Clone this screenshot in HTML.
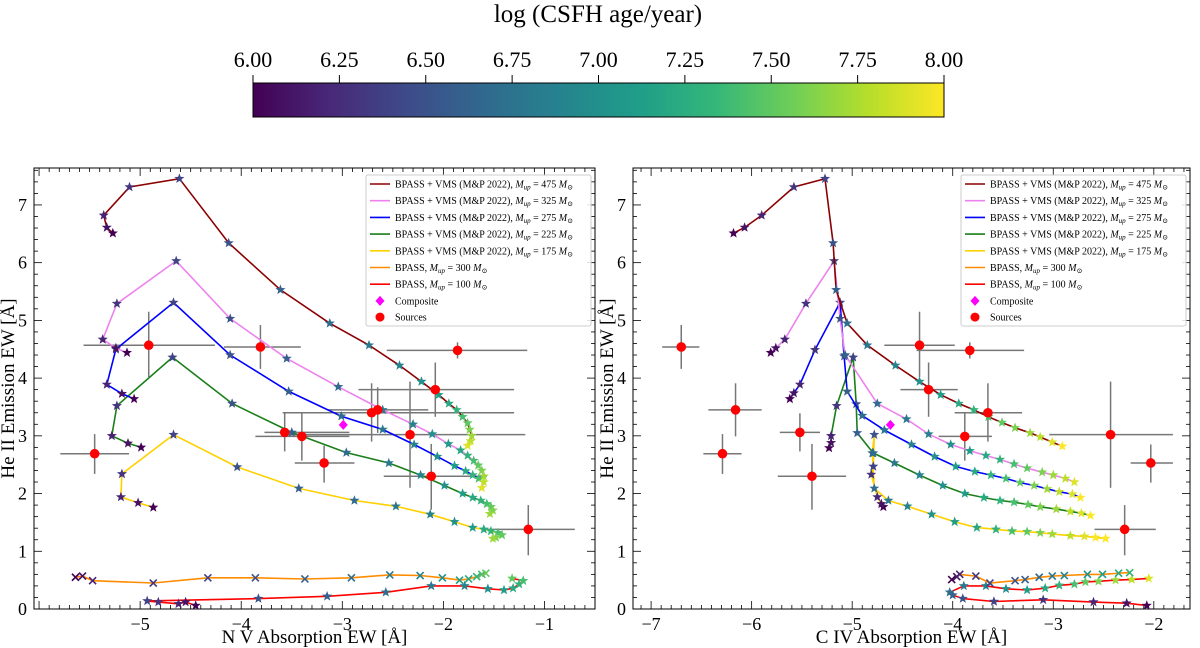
<!DOCTYPE html>
<html><head><meta charset="utf-8">
<style>
html,body{margin:0;padding:0;background:#fff;}
svg{display:block;font-family:"Liberation Serif","DejaVu Serif",serif;}
</style></head>
<body>
<svg id="fig" width="1200" height="648" viewBox="0 0 1200 648" xmlns="http://www.w3.org/2000/svg">
<defs>
<linearGradient id="vir" x1="0" x2="1" y1="0" y2="0">
<stop offset="0" stop-color="#440154"/><stop offset="0.11" stop-color="#482878"/><stop offset="0.22" stop-color="#3e4a89"/><stop offset="0.33" stop-color="#31688e"/><stop offset="0.44" stop-color="#26828e"/><stop offset="0.56" stop-color="#1f9e89"/><stop offset="0.67" stop-color="#35b779"/><stop offset="0.78" stop-color="#6ece58"/><stop offset="0.89" stop-color="#b5de2b"/><stop offset="1" stop-color="#fde725"/>
</linearGradient>
</defs>
<text x="598" y="22" font-size="25" text-anchor="middle">log (CSFH age/year)</text>
<rect x="253" y="83" width="691" height="34" fill="url(#vir)" stroke="#000" stroke-width="1"/>
<g id="cbticks"></g>
<g id="panelL"></g>
<g id="panelR"></g>
</svg>
<script>
// ---------- data ----------
const cbTicks = ["6.00","6.25","6.50","6.75","7.00","7.25","7.50","7.75","8.00"];
const xTicksL = [-5,-4,-3,-2,-1];
const xTicksR = [-7,-6,-5,-4,-3,-2];
const yTicks = [0,1,2,3,4,5,6,7];

// Left panel (N V)
const nv475X = [-5.27,-5.33,-5.36,-5.105,-4.612,-4.124,-3.612,-3.124,-2.736,-2.434,-2.217,-2.047,-1.946,-1.868,-1.81,-1.76,-1.74,-1.72,-1.73,-1.76];
const nv475Y = [6.51,6.61,6.82,7.31,7.455,6.34,5.53,4.95,4.57,4.22,3.94,3.71,3.56,3.45,3.33,3.22,3.11,3.0,2.91,2.83];
const nv325X = [-5.13,-5.24,-5.37,-5.23,-4.643,-4.109,-3.55,-3.04,-2.6,-2.3,-2.11,-1.95,-1.83,-1.76,-1.7,-1.655,-1.62,-1.6,-1.6,-1.62];
const nv325Y = [4.44,4.52,4.67,5.29,6.03,5.03,4.34,3.85,3.45,3.2,3.03,2.86,2.75,2.66,2.57,2.49,2.40,2.3,2.2,2.1];
const nv275X = [-5.06,-5.18,-5.33,-5.24,-4.67,-4.11,-3.53,-3.01,-2.6,-2.29,-2.06,-1.89,-1.78,-1.71,-1.65];
const nv275Y = [3.64,3.73,3.89,4.5,5.31,4.40,3.77,3.34,3.11,2.85,2.64,2.48,2.39,2.32,2.26];
const nv225X = [-4.99,-5.12,-5.28,-5.23,-4.68,-4.09,-3.5,-2.96,-2.54,-2.225,-1.99,-1.81,-1.71,-1.63,-1.57,-1.53,-1.51,-1.54];
const nv225Y = [2.80,2.87,3.0,3.52,4.36,3.56,3.06,2.71,2.53,2.32,2.14,2.0,1.93,1.88,1.82,1.77,1.71,1.65];
const nv175X = [-4.87,-5.02,-5.19,-5.18,-4.67,-4.04,-3.43,-2.88,-2.47,-2.13,-1.89,-1.71,-1.6,-1.53,-1.46,-1.42,-1.48,-1.51];
const nv175Y = [1.76,1.84,1.94,2.34,3.02,2.46,2.09,1.88,1.78,1.64,1.51,1.41,1.38,1.35,1.32,1.28,1.24,1.22];
const nvB300X = [-5.64,-5.57,-5.47,-4.87,-4.33,-3.86,-3.37,-2.91,-2.53,-2.23,-2.01,-1.84,-1.75,-1.67,-1.62,-1.58];
const nvB300Y = [0.55,0.57,0.49,0.45,0.54,0.54,0.52,0.54,0.59,0.58,0.54,0.50,0.52,0.56,0.60,0.62];
const nvB100X = [-4.45,-4.55,-4.62,-4.82,-4.93,-3.83,-3.15,-2.57,-2.12,-1.79,-1.56,-1.40,-1.31,-1.25,-1.21,-1.32];
const nvB100Y = [0.06,0.12,0.09,0.12,0.14,0.18,0.22,0.29,0.40,0.40,0.35,0.33,0.36,0.43,0.49,0.53];
const nvSrcX = [-4.915,-3.81,-1.86,-2.08,-2.71,-2.65,-2.33,-3.57,-3.40,-3.18,-2.12,-5.45,-1.16];
const nvSrcY = [4.57,4.54,4.48,3.80,3.40,3.45,3.02,3.06,2.99,2.53,2.30,2.69,1.38];
const nvSrcXlo = [-5.56,-4.17,-2.56,-2.84,-3.59,-3.14,-3.59,-3.77,-3.86,-3.47,-2.59,-5.79,-1.57];
const nvSrcXhi = [-4.26,-3.41,-1.17,-1.30,-1.30,-2.15,-1.19,-2.93,-2.93,-2.88,-1.57,-5.11,-0.70];
const nvSrcYlo = [4.02,4.16,4.34,3.33,2.90,3.05,2.10,2.73,2.57,2.19,1.72,2.34,0.93];
const nvSrcYhi = [5.15,4.92,4.62,4.27,3.91,3.84,3.94,3.40,3.40,2.83,2.86,3.03,1.80];
const nvCompX = [-2.99];
const nvCompY = [3.19];

// Right panel (C IV)
const civ475X = [-6.18,-6.07,-5.90,-5.58,-5.27,-5.19,-5.16,-5.05,-4.85,-4.57,-4.33,-4.12,-3.94,-3.79,-3.645,-3.51,-3.38,-3.23,-3.13,-3.01,-2.91];
const civ475Y = [6.51,6.61,6.82,7.31,7.455,6.34,5.53,4.95,4.57,4.22,3.94,3.71,3.56,3.45,3.33,3.23,3.14,3.05,2.98,2.89,2.82];
const civ325X = [-5.81,-5.76,-5.67,-5.46,-5.18,-5.12,-5.07,-4.75,-4.46,-4.24,-4.02,-3.83,-3.67,-3.53,-3.39,-3.26,-3.11,-3.0,-2.88,-2.79];
const civ325Y = [4.44,4.52,4.67,5.29,6.03,5.03,4.40,3.56,3.29,3.03,2.85,2.74,2.66,2.59,2.51,2.44,2.37,2.32,2.26,2.20];
const civ275X = [-5.62,-5.58,-5.52,-5.37,-5.12,-5.08,-5.05,-4.90,-4.68,-4.41,-4.18,-3.97,-3.78,-3.62,-3.47,-3.33,-3.19,-3.06,-2.94,-2.81,-2.73];
const civ275Y = [3.64,3.74,3.89,4.49,5.31,4.38,3.77,3.35,3.10,2.85,2.64,2.47,2.38,2.32,2.26,2.19,2.14,2.08,2.03,1.99,1.93];
const civ225X = [-5.23,-5.21,-5.21,-5.155,-4.99,-4.96,-4.95,-4.79,-4.58,-4.33,-4.10,-3.88,-3.69,-3.53,-3.39,-3.25,-3.13,-2.97,-2.83,-2.72,-2.63];
const civ225Y = [2.79,2.88,3.0,3.52,4.36,3.55,3.05,2.70,2.53,2.32,2.14,2.0,1.93,1.88,1.85,1.81,1.77,1.73,1.69,1.66,1.62];
const civ175X = [-4.69,-4.71,-4.75,-4.81,-4.79,-4.78,-4.80,-4.78,-4.64,-4.45,-4.21,-3.98,-3.76,-3.57,-3.41,-3.26,-3.13,-3.01,-2.83,-2.69,-2.58,-2.48];
const civ175Y = [1.77,1.82,1.94,2.33,2.47,3.02,2.70,2.09,1.88,1.78,1.64,1.51,1.41,1.38,1.35,1.34,1.32,1.30,1.27,1.26,1.24,1.22];
const civB300X = [-4.01,-3.96,-3.93,-3.77,-3.63,-3.38,-3.28,-3.14,-3.01,-2.89,-2.66,-2.51,-2.35,-2.24];
const civB300Y = [0.51,0.56,0.60,0.57,0.45,0.49,0.51,0.55,0.57,0.58,0.60,0.60,0.62,0.63];
const civB100X = [-2.07,-2.27,-2.60,-3.10,-3.59,-3.90,-4.0,-4.03,-3.89,-3.67,-3.47,-3.26,-3.08,-2.94,-2.79,-2.68,-2.55,-2.38,-2.22,-2.05];
const civB100Y = [0.06,0.10,0.12,0.16,0.13,0.18,0.24,0.29,0.40,0.40,0.35,0.33,0.36,0.41,0.43,0.47,0.48,0.50,0.51,0.53];
const civSrcX = [-6.70,-6.16,-6.29,-5.52,-5.40,-4.33,-3.83,-4.24,-3.65,-3.88,-2.43,-2.03,-2.29];
const civSrcY = [4.54,3.45,2.69,3.06,2.30,4.57,4.48,3.80,3.40,2.99,3.02,2.53,1.38];
const civSrcXlo = [-6.89,-6.43,-6.48,-5.72,-5.74,-4.68,-4.36,-4.52,-3.98,-4.14,-3.04,-2.23,-2.59];
const civSrcXhi = [-6.52,-5.90,-6.10,-5.32,-5.06,-3.98,-3.29,-3.95,-3.31,-3.61,-1.81,-1.81,-1.98];
const civSrcYlo = [4.16,2.99,2.34,2.73,1.72,4.02,4.34,3.33,2.90,2.57,2.10,2.19,0.93];
const civSrcYhi = [4.92,3.91,3.03,3.39,2.86,5.15,4.62,4.27,3.91,3.40,3.94,2.85,1.80];
const civCompX = [-4.62];
const civCompY = [3.19];

// ---------- helpers ----------
const NS = "http://www.w3.org/2000/svg";
function mk(tag, attrs, parent){const e=document.createElementNS(NS,tag);for(const k in attrs)e.setAttribute(k,attrs[k]);parent.appendChild(e);return e;}
const VIR=[[68,1,84],[72,40,120],[62,74,137],[49,104,142],[38,130,142],[31,158,137],[53,183,121],[110,206,88],[181,222,43],[253,231,37]];
function viridis(t){t=Math.max(0,Math.min(1,t));const p=t*(VIR.length-1);const i=Math.min(Math.floor(p),VIR.length-2);const f=p-i;const c=VIR[i].map((v,k)=>Math.round(v+(VIR[i+1][k]-v)*f));return `rgb(${c[0]},${c[1]},${c[2]})`;}
function starPath(cx,cy,r){let d="";for(let i=0;i<10;i++){const a=-Math.PI/2+i*Math.PI/5;const rr=i%2?r*0.42:r;d+=(i?"L":"M")+(cx+rr*Math.cos(a)).toFixed(1)+","+(cy+rr*Math.sin(a)).toFixed(1);}return d+"Z";}

// colorbar ticks
const cb=document.getElementById("cbticks");
cbTicks.forEach((t,i)=>{
  const x=253+i*691/(cbTicks.length-1);
  const tk=mk("line",{x1:x,x2:x,y1:83,y2:75,stroke:"#000","stroke-width":1},cb);
  
  
  const lb=mk("text",{x:x,y:67,"font-size":22,"text-anchor":"middle"},cb);
  lb.textContent=t;
  
  
});

const legendLabels=[
  ["#8b0000","BPASS + VMS (M&P 2022), ","475"],
  ["#ee82ee","BPASS + VMS (M&P 2022), ","325"],
  ["#0000ff","BPASS + VMS (M&P 2022), ","275"],
  ["#1a7f1a","BPASS + VMS (M&P 2022), ","225"],
  ["#ffd000","BPASS + VMS (M&P 2022), ","175"],
  ["#ff8c00","BPASS, ","300"],
  ["#ff0000","BPASS, ","100"]
];

function drawPanel(g, P, series, src, comp, xTicks, xlabel){
  const sx=v=>P.x0+(v-P.xmin)/(P.xmax-P.xmin)*(P.x1-P.x0);
  const sy=v=>P.y1-(v-P.ymin)/(P.ymax-P.ymin)*(P.y1-P.y0);
  const fr=mk("rect",{x:P.x0,y:P.y0,width:P.x1-P.x0,height:P.y1-P.y0,fill:"none",stroke:"#000","stroke-width":1},g);
  
  
  const tg=mk("g",{stroke:"#000","stroke-width":0.8},g);
  
  
  for(let v=Math.ceil(P.xmin*10)/10; v<=P.xmax; v+=0.1){
    const x=sx(v); const major=Math.abs(v-Math.round(v))<1e-6;
    const L=major?8:4;
    mk("line",{x1:x,x2:x,y1:P.y1,y2:P.y1-L},tg);
    mk("line",{x1:x,x2:x,y1:P.y0,y2:P.y0+L},tg);
  }
  for(let v=0; v<=P.ymax; v+=0.2){
    const y=sy(v); const major=Math.abs(v-Math.round(v))<1e-6;
    const L=major?8:4;
    mk("line",{x1:P.x0,x2:P.x0+L,y1:y,y2:y},tg);
    mk("line",{x1:P.x1,x2:P.x1-L,y1:y,y2:y},tg);
  }
  xTicks.forEach(v=>{
    const t=mk("text",{x:sx(v),y:P.y1+21,"font-size":18,"text-anchor":"middle"},g);
    t.textContent=(v<0?"\u2212":"")+Math.abs(v);
    
    
  });
  yTicks.forEach(v=>{
    const t=mk("text",{x:P.x0-7,y:sy(v)+6,"font-size":18,"text-anchor":"end"},g);
    t.textContent=v;
    
    
  });
  const xl=mk("text",{x:(P.x0+P.x1)/2,y:643,"font-size":19,"text-anchor":"middle"},g);
  xl.textContent=xlabel;
  
  
  const yx=P.x0-20, yc=(P.y0+P.y1)/2;
  const yl=mk("text",{x:yx,y:yc,"font-size":19,"text-anchor":"middle",transform:`rotate(-90 ${yx} ${yc})`},g);
  yl.textContent="He II Emission EW [\u00C5]";
  
  

  const eg=mk("g",{stroke:"#777","stroke-width":1.5},g);
  
  
  for(let i=0;i<src.x.length;i++){
    mk("line",{x1:sx(src.xlo[i]),x2:sx(src.xhi[i]),y1:sy(src.y[i]),y2:sy(src.y[i])},eg);
    mk("line",{x1:sx(src.x[i]),x2:sx(src.x[i]),y1:sy(src.ylo[i]),y2:sy(src.yhi[i])},eg);
  }
  series.forEach(s=>{
    const sg=mk("g",{},g);
    
    
    const pts=s.x.map((v,i)=>sx(v).toFixed(1)+","+sy(s.y[i]).toFixed(1)).join(" ");
    const pl=mk("polyline",{points:pts,fill:"none",stroke:s.color,"stroke-width":1.6},sg);
    
    
    s.x.forEach((v,i)=>{
      const age=Math.min(8,6+0.1*i);
      const c=viridis((age-6)/2);
      const cx=sx(v), cy=sy(s.y[i]);
      if(s.marker==="x"){
        const m=mk("path",{d:`M${cx-3.5},${cy-3.5}L${cx+3.5},${cy+3.5}M${cx-3.5},${cy+3.5}L${cx+3.5},${cy-3.5}`,stroke:c,"stroke-width":1.6},sg);
        
        
      } else {
        const m=mk("path",{d:starPath(cx,cy,5.3),fill:c},sg);
        
        
      }
    });
  });
  for(let i=0;i<src.x.length;i++){
    const c=mk("circle",{cx:sx(src.x[i]),cy:sy(src.y[i]),r:4.8,fill:"#ff0000"},g);
    
    
  }
  for(let i=0;i<comp.x.length;i++){
    const cx=sx(comp.x[i]),cy=sy(comp.y[i]);
    const d=mk("path",{d:`M${cx},${cy-5}L${cx+4.5},${cy}L${cx},${cy+5}L${cx-4.5},${cy}Z`,fill:"#ff00ff"},g);
    
    
  }
  const lg=mk("g",{},g);
  
  
  const lx=P.x1-229;
  mk("rect",{x:lx,y:175,width:225,height:151,fill:"#fff","fill-opacity":0.85,stroke:"#ccc","stroke-width":1,rx:2},lg);
  legendLabels.forEach((L,i)=>{
    const y=184+i*16.7;
    const e=mk("g",{},lg);
    
    
    mk("line",{x1:lx+4,x2:lx+24,y1:y,y2:y,stroke:L[0],"stroke-width":1.6},e);
    const t=mk("text",{x:lx+29,y:y+3.5,"font-size":10},e);
    t.innerHTML=L[1].replace("&","&amp;")+'<tspan font-style="italic">M</tspan><tspan font-size="7" dy="2" font-style="italic">up</tspan><tspan dy="-2"> = '+L[2]+' </tspan><tspan font-style="italic">M</tspan><tspan font-size="7" dy="2">\u2299</tspan>';
  });
  const ye1=184+7*16.7, ye2=184+8*16.7-0.5;
  const cd=mk("path",{d:`M${lx+14},${ye1-5}L${lx+18.5},${ye1}L${lx+14},${ye1+5}L${lx+9.5},${ye1}Z`,fill:"#ff00ff"},lg);
  
  
  const ct=mk("text",{x:lx+29,y:ye1+3.5,"font-size":10},lg);ct.textContent="Composite";
  
  
  const sc=mk("circle",{cx:lx+14,cy:ye2,r:4.5,fill:"#ff0000"},lg);
  
  
  const st=mk("text",{x:lx+29,y:ye2+3.5,"font-size":10},lg);st.textContent="Sources";
  
  
}

const colors={m475:"#8b0000",m325:"#ee82ee",m275:"#0000ff",m225:"#1a7f1a",m175:"#ffd000",b300:"#ff8c00",b100:"#ff0000"};
drawPanel(document.getElementById("panelL"),
  {x0:34,x1:595,y0:168,y1:609,xmin:-6.05,xmax:-0.5,ymin:0,ymax:7.64},
  [
   {name:"bpass-100",x:nvB100X,y:nvB100Y,color:colors.b100,marker:"star"},
   {name:"bpass-300",x:nvB300X,y:nvB300Y,color:colors.b300,marker:"x"},
   {name:"vms-175",x:nv175X,y:nv175Y,color:colors.m175,marker:"star"},
   {name:"vms-225",x:nv225X,y:nv225Y,color:colors.m225,marker:"star"},
   {name:"vms-275",x:nv275X,y:nv275Y,color:colors.m275,marker:"star"},
   {name:"vms-325",x:nv325X,y:nv325Y,color:colors.m325,marker:"star"},
   {name:"vms-475",x:nv475X,y:nv475Y,color:colors.m475,marker:"star"}
  ],
  {x:nvSrcX,y:nvSrcY,xlo:nvSrcXlo,xhi:nvSrcXhi,ylo:nvSrcYlo,yhi:nvSrcYhi},
  {x:nvCompX,y:nvCompY}, xTicksL, "N V Absorption EW [\u00C5]");
drawPanel(document.getElementById("panelR"),
  {x0:633,x1:1190,y0:168,y1:609,xmin:-7.18,xmax:-1.64,ymin:0,ymax:7.64},
  [
   {name:"bpass-100",x:civB100X,y:civB100Y,color:colors.b100,marker:"star"},
   {name:"bpass-300",x:civB300X,y:civB300Y,color:colors.b300,marker:"x"},
   {name:"vms-175",x:civ175X,y:civ175Y,color:colors.m175,marker:"star"},
   {name:"vms-225",x:civ225X,y:civ225Y,color:colors.m225,marker:"star"},
   {name:"vms-275",x:civ275X,y:civ275Y,color:colors.m275,marker:"star"},
   {name:"vms-325",x:civ325X,y:civ325Y,color:colors.m325,marker:"star"},
   {name:"vms-475",x:civ475X,y:civ475Y,color:colors.m475,marker:"star"}
  ],
  {x:civSrcX,y:civSrcY,xlo:civSrcXlo,xhi:civSrcXhi,ylo:civSrcYlo,yhi:civSrcYhi},
  {x:civCompX,y:civCompY}, xTicksR, "C IV Absorption EW [\u00C5]");
</script>
</body></html>
